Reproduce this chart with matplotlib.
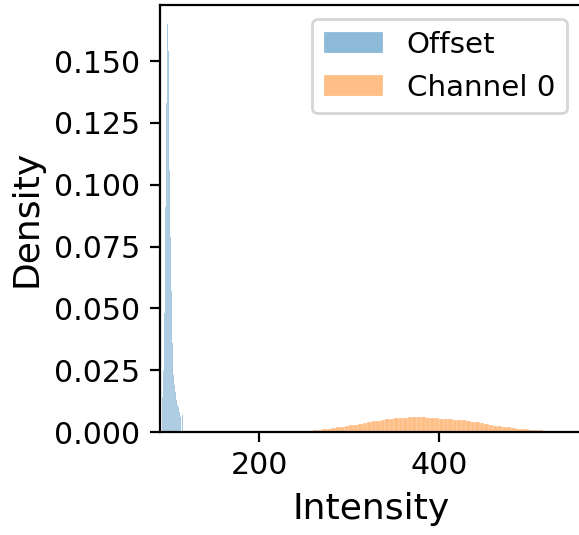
#%% Importing libraries

import numpy as np
from matplotlib import pyplot as plt

#%% Data (density per bin)

offset_start = 92.0  # left edge of first offset bin
offset_width = 1.1   # offset bin width
offset_density = [0.014, 0.025, 0.048, 0.091, 0.133, 0.165, 0.154, 0.106,
                  0.079, 0.057, 0.036, 0.023, 0.019, 0.016, 0.013, 0.011,
                  0.010, 0.008, 0.006, 0.0, 0.007]

chan_start = 240.0
chan_width = 5.0
chan_density = [0.0002, 0.0003, 0.0004, 0.0005, 0.0007, 0.0009, 0.0012, 0.0014,
                0.0016, 0.0019, 0.0022, 0.0025, 0.0028, 0.0030, 0.0033, 0.0036,
                0.0039, 0.0043, 0.0046, 0.0048, 0.0051, 0.0053, 0.0055, 0.0057,
                0.0058, 0.0060, 0.0059, 0.0060, 0.0059, 0.0058, 0.0057, 0.0055,
                0.0054, 0.0052, 0.0051, 0.0050, 0.0049, 0.0047, 0.0045, 0.0042,
                0.0039, 0.0035, 0.0032, 0.0029, 0.0026, 0.0023, 0.0021, 0.0019,
                0.0016, 0.0014, 0.0013, 0.0011, 0.0010, 0.0009, 0.0008, 0.0006,
                0.0005, 0.0004, 0.0003, 0.0002]

labels = ['Offset', 'Channel 0']
xticks = [200, 400]
yticks = [0.000, 0.025, 0.050, 0.075, 0.100, 0.125, 0.150]

#%% Plotting

plt.rcParams['font.family'] = 'DejaVu Sans'

fig = plt.figure(figsize=(2.895, 2.675), dpi=200)
ax = fig.add_axes([160/579, 103/535, 421.5/579, 427.5/535])

x_off = offset_start + offset_width*np.arange(len(offset_density))
x_ch = chan_start + chan_width*np.arange(len(chan_density))

ax.bar(x_off, offset_density, width=offset_width, align='edge',
       color='tab:blue', alpha=0.5, edgecolor='white', linewidth=0.15,
       label=labels[0])
ax.bar(x_ch, chan_density, width=chan_width, align='edge',
       color='tab:orange', alpha=0.5, edgecolor='white', linewidth=0.15,
       label=labels[1])

ax.set_xlim(89.7, 558)
ax.set_ylim(0, 0.1729)
ax.set_xticks(xticks)
ax.set_yticks(yticks)
ax.tick_params(labelsize=10.8)

ax.set_xlabel('Intensity', fontsize=13)
ax.set_ylabel('Density', fontsize=13)

ax.legend(loc='upper right', fontsize=10.6)

plt.savefig('out.png', dpi=200)
